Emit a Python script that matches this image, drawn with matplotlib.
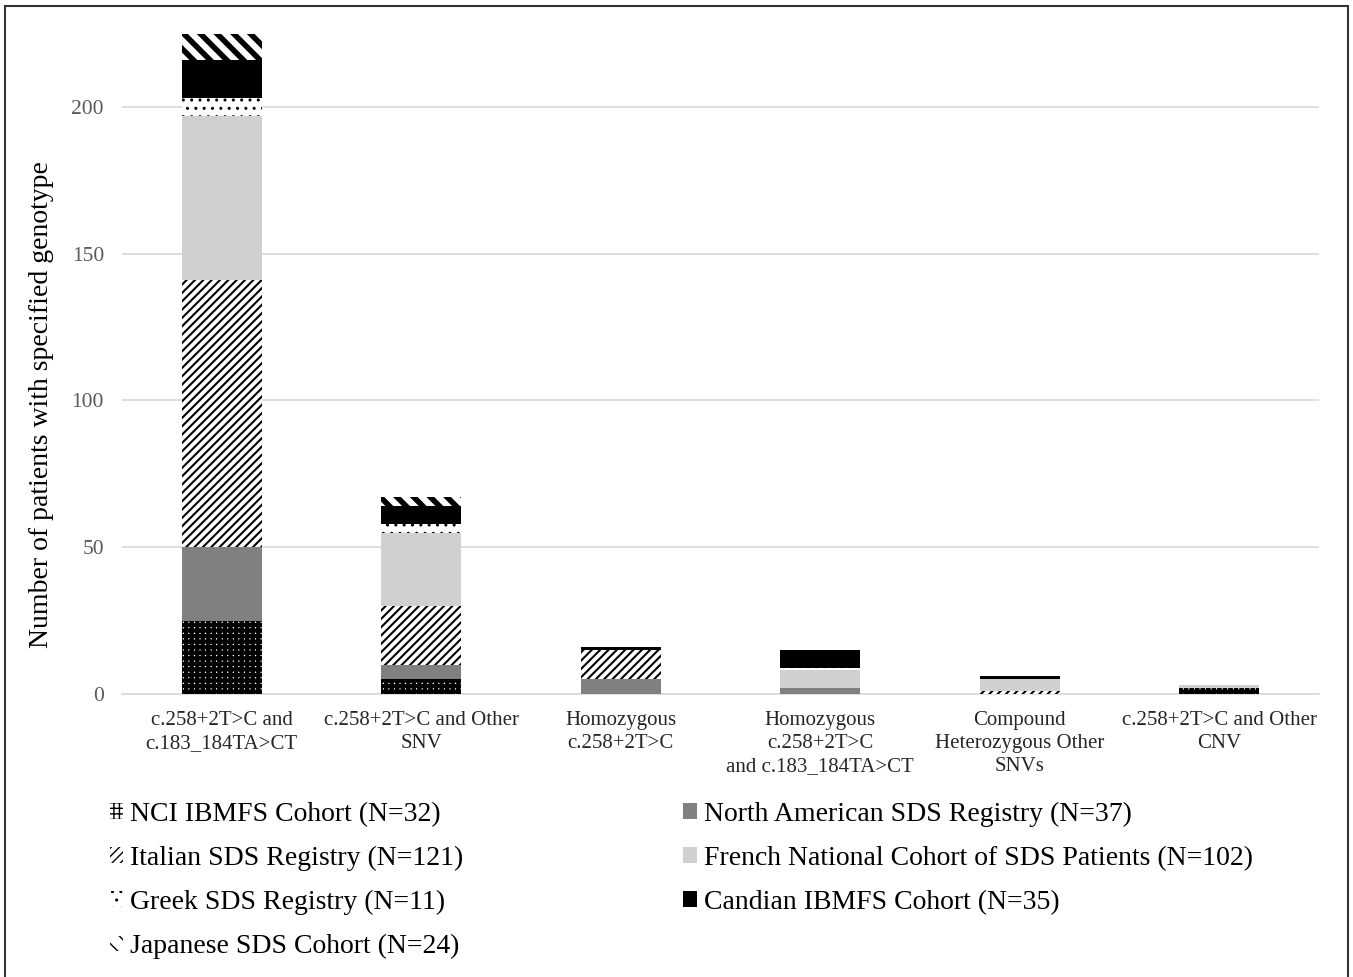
import numpy as np
import matplotlib
matplotlib.use("Agg")
import matplotlib.pyplot as plt
from matplotlib.patches import Patch, Rectangle

plt.rcParams['font.family'] = ['Liberation Serif', 'DejaVu Serif']

categories = ["c.258+2T>C and\nc.183_184TA>CT",
              "c.258+2T>C and Other\nSNV",
              "Homozygous\nc.258+2T>C",
              "Homozygous\nc.258+2T>C\nand c.183_184TA>CT",
              "Compound\nHeterozygous Other\nSNVs",
              "c.258+2T>C and Other\nCNV"]

nci = [25, 5, 0, 0, 0, 2]
north_american = [25, 5, 5, 2, 0, 0]
italian = [91, 20, 10, 0, 1, 0]
french = [56, 25, 0, 6, 4, 1]
greek = [6, 3, 0, 1, 0, 0]
canadian = [13, 6, 1, 6, 1, 0]
japanese = [9, 3, 0, 0, 0, 0]

labels = ["NCI IBMFS Cohort (N=32)", "North American SDS Registry (N=37)",
          "Italian SDS Registry (N=121)", "French National Cohort of SDS Patients (N=102)",
          "Greek SDS Registry (N=11)", "Candian IBMFS Cohort (N=35)",
          "Japanese SDS Cohort (N=24)"]
series = [nci, north_american, italian, french, greek, canadian, japanese]

# face, hatch colour, hatch, hatch linewidth
styles = [("white", "black", "+++", 3.0),
          ("#808080", "#808080", None, 1.0),
          ("white", "black", "////", 1.5),
          ("#d0d0d0", "#d0d0d0", None, 1.0),
          ("white", "black", "..", 1.0),
          ("black", "black", None, 1.0),
          ("white", "black", "\\\\", 4.0)]

fig = plt.figure(figsize=(13.53, 9.77), dpi=100)
ax = fig.add_axes([0.0902, 0.2897, 0.8847, 0.6909])

x = np.arange(len(categories))
bottom = np.zeros(len(categories))
handles = []
for vals, lab, (fc, hc, h, hlw) in zip(series, labels, styles):
    with plt.rc_context({'hatch.linewidth': hlw}):
        ax.bar(x, vals, 0.4, bottom=bottom, facecolor=fc, edgecolor=hc,
               hatch=h, linewidth=0, zorder=3)
        handles.append(Patch(facecolor=fc, edgecolor=hc, hatch=h, linewidth=0, label=lab))
    bottom += np.array(vals)

ax.set_xlim(-0.5, 5.5)
ax.set_ylim(0, 230)
ax.set_yticks([0, 50, 100, 150, 200])
ax.yaxis.grid(True, color="#d9d9d9", linewidth=1.2, zorder=0)
ax.set_axisbelow(True)
for s in ["top", "right", "left"]:
    ax.spines[s].set_visible(False)
ax.spines["bottom"].set_color("#d9d9d9")
ax.spines["bottom"].set_linewidth(1.2)
ax.tick_params(axis="y", length=0, pad=13, labelsize=15.5, labelcolor="#595959")
ax.tick_params(axis="x", length=0, pad=12, labelsize=15, labelcolor="#262626")
ax.set_xticks(x)
ax.set_xticklabels(categories, linespacing=1.3)
ax.set_ylabel("Number of patients with specified genotype", fontsize=20)
ax.yaxis.set_label_coords(-0.057, 0.428)

order1 = [0, 2, 4, 6]
order2 = [1, 3, 5]
kw = dict(frameon=False, fontsize=20, handlelength=0.5, handleheight=0.5,
          handletextpad=0.25, labelspacing=0.68, borderpad=0, borderaxespad=0,
          loc="upper left")
leg1 = fig.legend([handles[i] for i in order1], [labels[i] for i in order1],
                  bbox_to_anchor=(0.081, 0.179), **kw)
leg2 = fig.legend([handles[i] for i in order2], [labels[i] for i in order2],
                  bbox_to_anchor=(0.505, 0.179), **kw)

fig.patches.append(Rectangle((0.004, -0.01), 0.992, 1.004, transform=fig.transFigure,
                             fill=False, edgecolor="#333333", linewidth=1.5))

fig.savefig("out.png", dpi=100)
